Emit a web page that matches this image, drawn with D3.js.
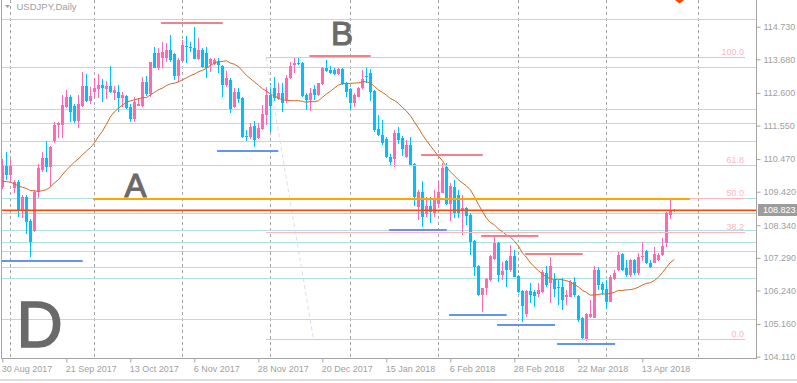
<!DOCTYPE html>
<html>
<head>
<meta charset="utf-8">
<script src="https://cdn.jsdelivr.net/npm/d3@7"></script>
<style>
    html, body { margin: 0; padding: 0; background: #fff; }
    svg { display: block; }
    text { font-family: "Liberation Sans", Arial, sans-serif; }
</style>
</head>
<body>
<svg id="chart" width="797" height="383"></svg>
<script>
// ---- data (30 Aug 2017 .. 25 Apr 2018) ----
const opens = [
    109.58,110.26,109.97,109.53,109.74,108.83,109.25,108.49,108.16,109.42,
    110.12,110.49,110.23,111.05,111.57,111.57,112.16,112.48,112.19,111.70,
    112.19,112.83,112.34,112.64,112.73,112.85,112.73,112.83,112.59,112.64,
    112.45,112.51,112.16,111.76,112.19,112.19,112.94,112.55,113.87,113.41,
    113.73,113.73,113.98,113.84,113.14,113.63,114.12,114.09,114.03,113.69,
    113.98,113.87,113.52,113.52,113.61,113.48,112.85,113.03,112.14,112.64,
    112.45,111.21,111.17,111.53,111.14,111.43,111.89,112.53,112.75,112.39,
    112.59,112.37,113.07,113.50,113.55,113.57,112.53,112.37,112.71,112.53,
    112.88,113.39,113.34,113.34,113.21,113.36,112.91,112.71,112.26,112.48,
    112.75,113.14,113.23,112.67,111.43,111.24,111.10,110.53,110.46,111.32,
    111.14,110.55,110.92,110.31,108.94,109.42,108.70,108.96,108.72,109.03,
    109.39,110.20,109.03,109.58,109.31,108.81,108.88,108.67,107.84,107.03,
    106.09,106.31,106.58,107.27,107.78,106.74,107.20,106.90,107.35,106.71,
    106.23,105.48,106.23,106.20,106.12,106.20,106.79,106.47,106.58,106.36,
    106.36,106.04,106.04,106.52,106.06,105.34,104.65,105.40,105.34,106.90,
    106.44,106.28,105.88,106.60,106.90,107.41,106.95,106.74,107.22,106.79,
    107.33,107.52,107.13,107.13,107.22,107.38,107.78,108.66,108.80
];
const highs = [
    110.47,110.69,110.47,109.80,109.80,109.31,109.31,108.53,109.48,110.30,
    110.71,111.05,110.90,111.65,111.67,112.53,112.69,112.53,112.23,112.53,
    113.26,113.20,112.80,113.07,113.20,113.05,112.98,113.47,112.83,112.85,
    112.62,112.53,112.23,112.48,112.43,113.12,113.15,113.60,114.09,114.03,
    114.25,114.20,114.46,113.87,113.71,114.30,114.44,114.25,114.73,114.36,
    114.03,114.09,113.71,113.71,113.71,113.50,113.30,113.07,112.75,112.75,
    112.48,111.41,111.64,111.69,111.62,112.21,112.80,112.91,113.12,112.91,
    112.91,113.18,113.61,113.71,113.77,113.61,112.61,112.75,112.85,112.91,
    113.44,113.66,113.47,113.39,113.39,113.39,112.96,112.75,112.59,112.78,
    113.34,113.39,113.36,112.69,111.89,111.73,111.17,110.63,111.41,111.49,
    111.21,111.08,111.17,110.33,109.47,109.77,109.26,109.26,109.47,109.77,
    110.33,110.33,109.69,109.80,109.47,109.31,108.94,108.72,107.86,107.05,
    106.31,106.63,107.38,107.97,107.81,107.17,107.22,107.70,107.54,106.74,
    106.26,106.26,106.47,106.26,106.49,106.90,107.03,107.33,106.79,106.58,
    106.63,106.26,106.58,106.68,106.09,105.40,105.52,105.93,107.03,107.01,
    106.52,106.58,106.74,106.90,107.49,107.44,107.22,107.27,107.27,107.44,
    107.81,107.54,107.22,107.63,107.44,107.92,108.77,109.16,108.86
];
const lows = [
    109.50,109.80,109.74,109.39,108.62,108.56,108.05,107.33,108.13,109.23,
    110.07,110.07,109.58,110.98,111.16,111.14,112.12,111.65,111.62,111.46,
    112.16,112.30,112.23,112.48,112.45,112.32,112.40,112.60,112.37,112.00,
    112.16,112.08,111.67,111.67,112.17,112.16,112.51,112.48,113.39,113.34,
    113.39,113.61,113.61,113.02,112.96,113.58,113.55,113.93,113.68,113.66,
    113.39,113.09,113.28,113.50,113.23,112.48,112.80,111.94,112.10,112.26,
    111.14,111.06,111.11,110.85,111.11,111.41,111.57,111.35,112.35,112.37,
    111.99,112.26,113.04,113.23,113.50,112.48,112.05,112.03,112.37,112.50,
    112.85,113.28,113.21,113.18,113.18,112.85,112.48,112.05,112.14,112.46,
    112.71,112.91,112.35,111.35,111.21,110.92,110.49,110.28,110.20,110.96,
    110.57,110.49,110.25,108.96,108.51,108.29,108.62,108.42,108.62,108.89,
    109.37,109.00,108.49,108.56,108.56,108.03,108.35,107.38,106.71,106.06,
    105.56,106.09,106.56,107.22,106.52,106.58,106.36,106.85,106.66,106.15,
    105.24,105.40,105.83,105.72,106.04,106.15,106.36,105.83,106.04,105.77,
    105.61,105.77,106.02,106.04,105.24,104.65,104.63,105.34,105.34,106.26,
    106.09,105.66,105.86,106.58,106.88,106.88,106.66,106.68,106.74,106.74,
    107.20,107.09,106.95,107.11,107.20,107.35,107.65,108.55,108.78
];
const closes = [
    110.26,109.97,110.26,109.74,108.83,109.25,108.43,107.81,109.42,110.17,
    110.49,110.23,110.87,111.57,111.62,112.21,112.48,111.97,111.70,112.23,
    112.83,112.34,112.50,112.77,112.85,112.77,112.83,112.62,112.69,112.45,
    112.53,112.10,111.76,112.30,112.23,112.96,112.55,113.60,113.41,113.87,
    113.91,113.98,113.66,113.14,113.66,114.14,114.07,114.03,113.69,113.98,
    113.44,113.39,113.69,113.66,113.50,112.85,113.07,112.07,112.64,112.39,
    111.17,111.17,111.49,111.08,111.46,111.92,112.53,112.18,112.42,112.61,
    112.29,113.07,113.47,113.55,113.53,112.50,112.37,112.59,112.53,112.91,
    113.39,113.31,113.25,113.21,113.36,112.88,112.64,112.29,112.53,112.75,
    113.04,113.10,112.64,111.41,111.24,110.98,110.53,110.39,111.32,111.08,
    110.78,110.92,110.28,109.26,109.42,108.62,108.96,108.76,109.21,109.42,
    110.17,109.03,109.60,108.72,108.74,108.88,108.64,107.81,107.01,106.09,
    106.31,106.60,107.35,107.78,106.74,106.88,106.90,107.35,106.68,106.20,
    105.74,106.23,106.09,106.06,106.26,106.84,106.42,107.03,106.28,106.31,
    105.93,106.09,106.52,106.09,105.29,104.70,105.50,105.50,106.90,106.42,
    106.26,105.88,106.66,106.81,107.38,106.90,106.74,107.22,106.79,107.33,
    107.35,107.11,107.01,107.41,107.38,107.67,108.74,108.84,108.823
];
// closes of the 19 sessions before 30 Aug 2017 (feed the 20-day MA)
const priorCloses = [110.0,110.7,110.7,110.3,110.0,109.2,109.2,109.6,110.6,110.0,
                     109.6,109.2,108.9,109.6,109.0,109.5,109.3,109.2,110.1];
const maPeriod = 20;
const lastPrice = 108.823;

// axis labels
const priceTicks = [114.730, 113.680, 112.600, 111.550, 110.470, 109.420,
                    108.340, 107.290, 106.240, 105.160, 104.110];
const dateTickBars = [0, 16, 32, 48, 64, 80, 96, 112, 128, 144, 160];
const dateTickLabels = ["30 Aug 2017", "21 Sep 2017", "13 Oct 2017", "6 Nov 2017",
    "28 Nov 2017", "20 Dec 2017", "15 Jan 2018", "6 Feb 2018", "28 Feb 2018",
    "22 Mar 2018", "13 Apr 2018"];
const separatorBars = [2, 23, 45, 67, 87, 109, 129, 151, 174]; // month starts

// drawn objects
const hLevels = [114.968, 113.433, 112.071, 111.631, 111.042, 110.279, 109.217,
                 108.724, 108.187, 107.791, 107.527, 106.986, 106.632, 105.312];
const highMarkFrom  = [39.7, 76.75, 104.7, 119.7, 130.7];
const highMarkTo    = [55.1, 92.1, 120.1, 134.0, 145.1];
const highMarkPrice = [114.865, 113.787, 110.61, 107.994, 107.424];
const lowMarkFrom   = [-0.2, 53.7, 96.7, 111.7, 123.7, 138.7];
const lowMarkTo     = [20.1, 69.0, 111.1, 126.1, 138.2, 153.2];
const lowMarkPrice  = [107.199, 110.739, 108.18, 105.46, 105.145, 104.527];
const lineA = { from: 22.7, to: 171.9, price: 109.20 };
const fibLevels = [0, 38.2, 50, 61.8, 100];
const fib = { fromBar: 65.9, toBar: 77.8, high: 113.745, low: 104.67, rayEnd: 185.7 };
const letters = ["A", "B", "D"];
const letterBar = [33.3, 84.9, 9.3];
const letterPrice = [109.24, 114.14, 104.41];
const arrowMark = { bar: 169.3, price: 115.48 };

// ---- layout ----
const plotLeft = 2, plotRight = 756, plotBottom = 359;
const x = d3.scaleLinear().domain([0, 168]).range([2.3, 674.3]);
const y = d3.scaleLinear().domain([104.11, 114.73]).range([356.7, 26.7]);
const crisp = v => Math.round(v) + 0.5;

const colors = {
    up: "#ff69b4", down: "#00bfff", ma: "#d2691e",
    level: "#b0dfe3", fib: "#ffb6c1", fibRay: "#dcdcf5",
    high: "#f0808a", low: "#6495ed", lineA: "#ffa500", last: "#ff4500",
    grid: "#a4a4a4", text: "#a0a0a0", letter: "#6a6a6a"
};

const svg = d3.select("#chart");

svg.append("clipPath").attr("id", "plotClip")
    .append("rect")
    .attr("x", plotLeft).attr("y", 0)
    .attr("width", plotRight - plotLeft).attr("height", plotBottom);

const plot = svg.append("g").attr("clip-path", "url(#plotClip)");

// month separators
plot.append("g")
    .selectAll("line")
    .data(separatorBars)
    .join("line")
        .attr("x1", d => crisp(x(d))).attr("x2", d => crisp(x(d)))
        .attr("y1", 0).attr("y2", plotBottom)
        .attr("stroke", colors.grid)
        .attr("stroke-dasharray", "3,3");

// horizontal levels
plot.append("g")
    .selectAll("line")
    .data(hLevels)
    .join("line")
        .attr("x1", plotLeft).attr("x2", plotRight)
        .attr("y1", d => crisp(y(d))).attr("y2", d => crisp(y(d)))
        .attr("stroke", colors.level);

// candles
const candles = plot.append("g")
    .selectAll("g")
    .data(d3.range(opens.length))
    .join("g")
        .attr("fill", i => closes[i] >= opens[i] ? colors.up : colors.down);
candles.append("rect")
    .attr("x", i => Math.floor(x(i)))
    .attr("width", 1)
    .attr("y", i => Math.round(y(highs[i])))
    .attr("height", i => Math.max(1, Math.round(y(lows[i])) - Math.round(y(highs[i]))));
candles.append("rect")
    .attr("x", i => Math.floor(x(i)) - 1)
    .attr("width", 3)
    .attr("y", i => Math.round(y(Math.max(opens[i], closes[i]))))
    .attr("height", i => Math.max(1,
        Math.round(y(Math.min(opens[i], closes[i]))) - Math.round(y(Math.max(opens[i], closes[i])))));

// 20 day simple moving average
const allCloses = priorCloses.concat(closes);
const ma = closes.map((c, i) => d3.mean(allCloses.slice(i, i + maPeriod)));
plot.append("path")
    .datum(ma)
    .attr("fill", "none")
    .attr("stroke", colors.ma)
    .attr("stroke-width", 1)
    .attr("d", d3.line().x((d, i) => x(i)).y(d => y(d)));

// fibonacci retracement
const fibPrice = l => fib.low + (fib.high - fib.low) * l / 100;
plot.append("line")
    .attr("x1", x(fib.fromBar)).attr("y1", y(fib.high))
    .attr("x2", x(fib.toBar)).attr("y2", y(fib.low))
    .attr("stroke", colors.fibRay)
    .attr("stroke-dasharray", "4,3");
const fibG = plot.append("g");
fibG.selectAll("line")
    .data(fibLevels)
    .join("line")
        .attr("x1", x(fib.fromBar)).attr("x2", x(fib.rayEnd))
        .attr("y1", d => crisp(y(fibPrice(d)))).attr("y2", d => crisp(y(fibPrice(d))))
        .attr("stroke", colors.fib);
fibG.selectAll("text")
    .data(fibLevels)
    .join("text")
        .attr("x", x(fib.rayEnd) - 1)
        .attr("y", d => y(fibPrice(d)) - 2)
        .attr("text-anchor", "end")
        .attr("font-size", 9)
        .attr("fill", colors.fib)
        .text(d => d.toFixed(1));

// swing high / swing low marks
plot.append("g")
    .selectAll("line")
    .data(highMarkPrice)
    .join("line")
        .attr("x1", (d, i) => x(highMarkFrom[i])).attr("x2", (d, i) => x(highMarkTo[i]))
        .attr("y1", d => Math.round(y(d))).attr("y2", d => Math.round(y(d)))
        .attr("stroke", colors.high).attr("stroke-width", 2);
plot.append("g")
    .selectAll("line")
    .data(lowMarkPrice)
    .join("line")
        .attr("x1", (d, i) => x(lowMarkFrom[i])).attr("x2", (d, i) => x(lowMarkTo[i]))
        .attr("y1", d => Math.round(y(d))).attr("y2", d => Math.round(y(d)))
        .attr("stroke", colors.low).attr("stroke-width", 2);

// line A
plot.append("line")
    .attr("x1", x(lineA.from)).attr("x2", x(lineA.to))
    .attr("y1", Math.round(y(lineA.price))).attr("y2", Math.round(y(lineA.price)))
    .attr("stroke", colors.lineA).attr("stroke-width", 2);

// last price line
plot.append("line")
    .attr("x1", plotLeft).attr("x2", plotRight)
    .attr("y1", y(lastPrice)).attr("y2", y(lastPrice))
    .attr("stroke", colors.last).attr("stroke-width", 1.5);

// letters (heavier than the regular face, like the terminal's text objects)
plot.append("g")
    .selectAll("text")
    .data(letters)
    .join("text")
        .attr("x", (d, i) => x(letterBar[i]))
        .attr("y", (d, i) => y(letterPrice[i]))
        .attr("text-anchor", "middle")
        .attr("font-family", "DejaVu Sans, Verdana, sans-serif")
        .attr("font-size", d => d === "D" ? 64 : 33)
        .attr("fill", colors.letter)
        .attr("stroke", colors.letter)
        .attr("stroke-width", d => d === "D" ? 1.6 : 1.1)
        .text(d => d);

// arrow mark at the top edge
const ax = x(arrowMark.bar), ay = y(arrowMark.price);
svg.append("path")
    .attr("d", `M${ax - 4},${ay - 8}L${ax + 4},${ay - 8}L${ax + 4},${ay - 3}L${ax},${ay}L${ax - 4},${ay - 3}Z`)
    .attr("fill", "#ff4500");

// frame
svg.append("line")
    .attr("x1", 1.5).attr("x2", 1.5).attr("y1", 0).attr("y2", plotBottom)
    .attr("stroke", colors.grid);

// price axis
const yAxis = d3.axisRight(y)
    .tickValues(priceTicks)
    .tickSize(4)
    .tickPadding(3)
    .tickFormat(d3.format(".3f"));
svg.append("g")
    .attr("transform", `translate(${plotRight + 0.5},0)`)
    .call(yAxis)
    .call(g => g.select(".domain").remove())
    .call(g => g.selectAll(".tick line").attr("stroke", colors.grid))
    .call(g => g.selectAll(".tick text")
        .attr("fill", colors.text)
        .attr("font-family", "Liberation Sans, Arial, sans-serif")
        .attr("font-size", 9));
svg.append("line")
    .attr("x1", plotRight + 0.5).attr("x2", plotRight + 0.5)
    .attr("y1", 0).attr("y2", plotBottom)
    .attr("stroke", colors.grid);

// time axis
const xAxis = d3.axisBottom(x)
    .tickValues(dateTickBars)
    .tickSize(4)
    .tickPadding(3)
    .tickFormat((d, i) => dateTickLabels[i]);
svg.append("g")
    .attr("transform", `translate(0,${plotBottom - 0.5})`)
    .call(xAxis)
    .call(g => g.select(".domain").remove())
    .call(g => g.selectAll(".tick line").attr("stroke", colors.grid))
    .call(g => g.selectAll(".tick text")
        .attr("fill", colors.text)
        .attr("text-anchor", "start")
        .attr("x", -1)
        .attr("font-family", "Liberation Sans, Arial, sans-serif")
        .attr("font-size", 9));
svg.append("line")
    .attr("x1", plotLeft).attr("x2", plotRight)
    .attr("y1", plotBottom - 0.5).attr("y2", plotBottom - 0.5)
    .attr("stroke", colors.grid);

// last price tag
const tagY = y(lastPrice);
svg.append("rect")
    .attr("x", plotRight + 2).attr("y", Math.round(tagY) - 6)
    .attr("width", 797 - plotRight - 2).attr("height", 12)
    .attr("fill", "#9c9c9c");
svg.append("text")
    .attr("x", plotRight + 7).attr("y", tagY)
    .attr("dy", "0.35em")
    .attr("fill", "#fff")
    .attr("font-size", 9)
    .text(lastPrice.toFixed(3));

// title
svg.append("path").attr("d", "M5,5L10,5L7.5,8Z").attr("fill", colors.text);
svg.append("text")
    .attr("x", 16.5).attr("y", 10)
    .attr("fill", colors.text)
    .attr("font-size", 9.5)
    .text("USDJPY,Daily");

// window bottom edge
svg.append("line")
    .attr("x1", 0).attr("x2", 797).attr("y1", 380).attr("y2", 380)
    .attr("stroke", "#d4d4d4").attr("stroke-width", 1.5);
</script>
</body>
</html>
